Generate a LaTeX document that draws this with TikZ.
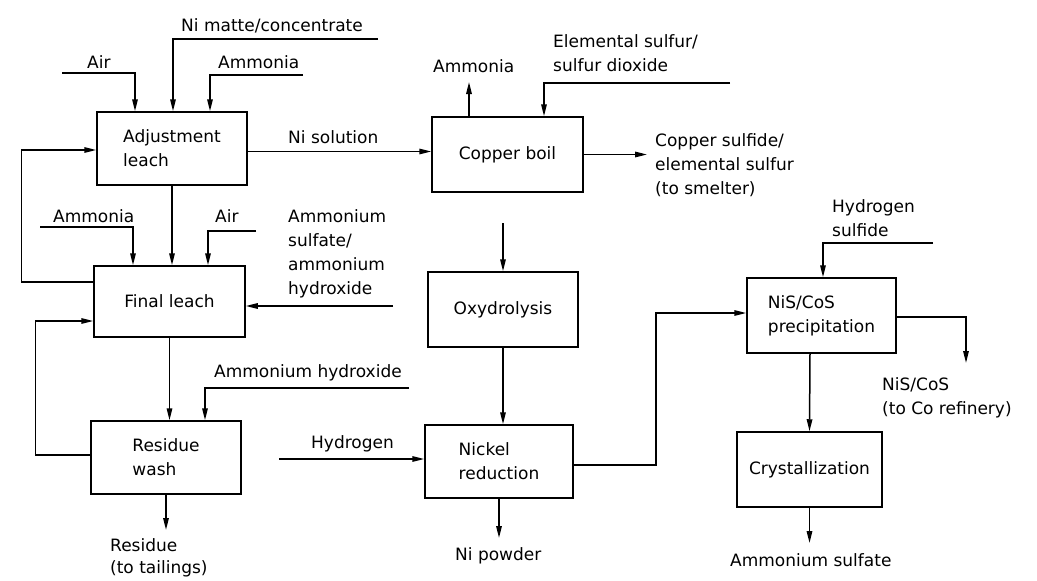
\documentclass[tikz,border=0pt]{standalone}
\usepackage{fontspec}
\setmainfont{DejaVu Sans}
\usetikzlibrary{arrows.meta}
\begin{document}
\begin{tikzpicture}[x=1pt,y=-1pt,
  every node/.style={font=\fontsize{17}{24}\selectfont},
  box/.style={draw, line width=1.5pt, minimum width=150pt, minimum height=73pt, align=left, inner sep=0pt},
  flow/.style={line width=1.5pt, -{Triangle[length=12pt,width=5.5pt]}},
  lbl/.style={anchor=base west, inner sep=0pt},
  mlbl/.style={anchor=north west, align=left, inner sep=0pt}]
\useasboundingbox (0,0) rectangle (1037,581);

% boxes
\node[box] (adj) at (172,148.5) {Adjustment\\leach};
\node[box, minimum width=151pt, minimum height=75pt] (cb) at (507.5,154.5) {Copper boil};
\node[box, minimum width=151pt, minimum height=71pt] (fl) at (169.5,301.5) {Final leach};
\node[box] (rw) at (166,457.5) {Residue\\wash};
\node[box, minimum height=75pt] (ox) at (503,309.5) {Oxydrolysis};
\node[box, minimum width=148pt] (nr) at (499,461.5) {Nickel\\reduction};
\node[box, minimum width=149pt, minimum height=75pt] (ns) at (821.5,315.5) {NiS/CoS\\precipitation};
\node[box, minimum width=145pt, minimum height=75pt] (cr) at (809.5,469.5) {Crystallization};

% free ends
\coordinate (air1) at (62,73);
\coordinate (nim) at (378,39);
\coordinate (amm1) at (303,75);
\coordinate (ammout) at (469,82);
\coordinate (es) at (730,83);
\coordinate (cso) at (647,154.5);
\coordinate (oxin) at (503,223);
\coordinate (amm2) at (40,227);
\coordinate (air2) at (256,231);
\coordinate (as) at (393,306);
\coordinate (ah) at (409,388);
\coordinate (res) at (166,530);
\coordinate (h2) at (279,459);
\coordinate (nip) at (499,538);
\coordinate (h2s) at (933,243);
\coordinate (nso) at (966,363);
\coordinate (amsu) at (809.5,543);

% connectors
\draw[flow] (air1) -| ([xshift=-37pt]adj.north);
\draw[flow] (nim) -| ([xshift=1pt]adj.north);
\draw[flow] (amm1) -| ([xshift=38pt]adj.north);
\draw[flow] ([yshift=-3pt]adj.east) -- ([yshift=-3pt]adj.east -| cb.west);
\draw[flow] ([xshift=-38.5pt]cb.north) -- (ammout);
\draw[flow] (es) -| ([xshift=36.5pt]cb.north);
\draw[flow] (cb.east) -- (cso);
\draw[flow] (oxin) -- (ox.north);
\draw[flow] (adj.south) -- (adj.south |- fl.north);
\draw[flow] (amm2) -| ([xshift=-36.5pt]fl.north);
\draw[flow] (air2) -| ([xshift=38.5pt]fl.north);
\draw[flow] (as) -- (as -| fl.east);
\draw[flow] ([yshift=19.5pt]fl.west) -- ++(-72,0) |- ([yshift=-1.5pt]adj.west);
\draw[flow] ([yshift=2.5pt]rw.west) -- ++(-55,0) |- ([yshift=-19.5pt]fl.west);
\draw[flow] (fl.south) -- (fl.south |- rw.north);
\draw[flow] (ah) -| ([xshift=39pt]rw.north);
\draw[flow] (rw.south) -- (res);
\draw[flow] (ox.south) -- (ox.south |- nr.north);
\draw[flow] (h2) -- (h2 -| nr.west);
\draw[flow] (nr.south) -- (nip);
\draw[flow] ([yshift=-3.5pt]nr.east) -- ++(82,0) |- ([yshift=2.5pt]ns.west);
\draw[flow] (h2s) -| ([xshift=1.5pt]ns.north);
\draw[flow] ([yshift=-1.5pt]ns.east) -| (nso);
\draw[flow] ([xshift=-11.5pt]ns.south) -- (cr.north);
\draw[flow] (cr.south) -- (amsu);

% labels
\node[lbl] (lair1) at (87,68) {Air};
\node[lbl] (lnim) at (181,31) {Ni matte/concentrate};
\node[lbl] (lamm1) at (218,68) {Ammonia};
\node[lbl] (lnis) at (288,143) {Ni solution};
\node[lbl] (lammout) at (433,72) {Ammonia};
\node[mlbl] (les) at (553,34) {Elemental sulfur/\\sulfur dioxide};
\node[mlbl] (lcso) at (655,133) {Copper sulfide/\\elemental sulfur\\(to smelter)};
\node[lbl] (lamm2) at (53,222) {Ammonia};
\node[lbl] (lair2) at (215,222) {Air};
\node[mlbl] (las) at (288,209) {Ammonium\\sulfate/\\ammonium\\hydroxide};
\node[lbl] (lah) at (214,377) {Ammonium hydroxide};
\node[lbl] (lh2) at (311,448) {Hydrogen};
\node[mlbl, font=\fontsize{17}{22}\selectfont] (lres) at (110,538) {Residue\\(to tailings)};
\node[lbl] (lnip) at (455,560) {Ni powder};
\node[mlbl] (lh2s) at (832,199) {Hydrogen\\sulfide};
\node[mlbl] (lnso) at (882,377) {NiS/CoS\\(to Co refinery)};
\node[lbl] (lamsu) at (730,566) {Ammonium sulfate};
\end{tikzpicture}
\end{document}
